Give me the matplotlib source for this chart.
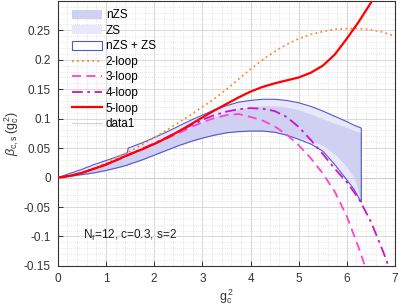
"""beta function bands: nZS / ZS uncertainty vs loop orders"""

import numpy as np
import matplotlib
matplotlib.use("Agg")
import matplotlib.pyplot as plt
from matplotlib.patches import Patch
from matplotlib.lines import Line2D

plt.rcParams['font.family'] = ['Liberation Sans', 'DejaVu Sans']
plt.rcParams['mathtext.fontset'] = 'custom'
plt.rcParams['mathtext.rm'] = 'Liberation Sans'
plt.rcParams['mathtext.it'] = 'Liberation Sans:italic'

# ---------------------------------------------------------------- band data
band_x = [0, 0.25, 0.5, 0.75, 1.0, 1.25, 1.44, 1.46, 1.75, 2.0, 2.25, 2.5, 2.75, 3.0,
          3.25, 3.5, 3.75, 4.0, 4.25, 4.5, 4.75, 5.0, 5.25, 5.5, 5.75, 6.0, 6.15, 6.3]
band_upper = [0, 0.007, 0.014, 0.022, 0.029, 0.036, 0.042, 0.050, 0.059, 0.068, 0.077,
              0.087, 0.097, 0.106, 0.115, 0.122, 0.128, 0.131, 0.133, 0.133, 0.131,
              0.127, 0.121, 0.113, 0.104, 0.095, 0.089, 0.084]
band_lower = [0, 0.002, 0.005, 0.008, 0.012, 0.017, 0.021, 0.022, 0.030, 0.038, 0.046,
              0.054, 0.061, 0.067, 0.072, 0.076, 0.078, 0.079, 0.079, 0.077, 0.072,
              0.065, 0.057, 0.045, 0.022, -0.004, -0.020, -0.042]
nzs_upper = [0, 0.004, 0.009, 0.015, 0.021, 0.029, 0.035, 0.038, 0.047, 0.056, 0.066,
             0.075, 0.085, 0.095, 0.103, 0.110, 0.116, 0.120, 0.122, 0.122, 0.120,
             0.115, 0.108, 0.100, 0.092, 0.085, 0.080, 0.076]
nzs_lower = [0, 0.002, 0.005, 0.008, 0.012, 0.017, 0.021, 0.022, 0.030, 0.038, 0.046,
             0.054, 0.061, 0.067, 0.072, 0.076, 0.078, 0.079, 0.079, 0.077, 0.072,
             0.067, 0.063, 0.055, 0.040, 0.018, 0.000, -0.040]

# ---------------------------------------------------------------- loop curves
loop_x = [0, 0.25, 0.5, 0.75, 1.0, 1.25, 1.5, 1.75, 2.0, 2.25, 2.5, 2.75, 3.0, 3.25,
          3.5, 3.75, 4.0, 4.25, 4.5, 4.75, 5.0, 5.25, 5.5, 5.75, 6.0, 6.25, 6.5, 6.75, 7.0]
loop2 = [0, 0.003, 0.008, 0.016, 0.025, 0.035, 0.045, 0.056, 0.068, 0.080, 0.093, 0.106,
         0.120, 0.134, 0.150, 0.167, 0.184, 0.200, 0.214, 0.226, 0.236, 0.243, 0.248,
         0.252, 0.253, 0.253, 0.251, 0.247, 0.240]
loop3 = [0, 0.003, 0.008, 0.015, 0.022, 0.030, 0.039, 0.048, 0.057, 0.066, 0.075, 0.085,
         0.094, 0.101, 0.106, 0.108, 0.103, 0.097, 0.087, 0.073, 0.055, 0.033, 0.007,
         -0.024, -0.066, -0.120, -0.180, -0.250, -0.330]
loop4 = [0, 0.003, 0.008, 0.015, 0.022, 0.031, 0.040, 0.049, 0.058, 0.068, 0.078, 0.088,
         0.098, 0.106, 0.112, 0.116, 0.118, 0.117, 0.113, 0.103, 0.086, 0.064, 0.040,
         0.015, -0.008, -0.036, -0.075, -0.125, -0.180]
loop5 = [0, 0.003, 0.008, 0.015, 0.022, 0.031, 0.040, 0.048, 0.057, 0.067, 0.078, 0.090,
         0.102, 0.114, 0.125, 0.136, 0.146, 0.154, 0.160, 0.165, 0.170, 0.178, 0.190,
         0.209, 0.236, 0.265, 0.297, 0.332, 0.370]

x_ticks = [0, 1, 2, 3, 4, 5, 6, 7]
y_ticks = [-0.15, -0.1, -0.05, 0, 0.05, 0.1, 0.15, 0.2, 0.25]
y_tick_labels = ['-0.15', '-0.1', '-0.05', '0', '0.05', '0.1', '0.15', '0.2', '0.25']

# colours
C_ZS = '#e8e8fa'
C_NZS = '#d0d0f2'
C_EDGE = '#5555cc'
C_AX = '#333333'

fig = plt.figure(figsize=(3.99, 3.06), dpi=100)
ax = fig.add_axes([0.145, 0.131, 0.845, 0.866])

# bands
ax.fill_between(band_x, band_lower, band_upper, color=C_ZS, lw=0, zorder=1)
ax.fill_between(band_x, nzs_lower, nzs_upper, color=C_NZS, lw=0, zorder=1.1)
outline_x = list(band_x) + [band_x[-1]] + list(band_x[::-1])
outline_y = list(band_upper) + [band_lower[-1]] + list(band_lower[::-1])
ax.plot(outline_x, outline_y, color=C_EDGE, lw=0.8, zorder=2)

# zero line (data1)
ax.axhline(0, color='#c8c8c8', lw=0.6, zorder=1.5)

# loop curves
ax.plot(loop_x, loop2, color='#ff8833', lw=1.3, ls=(0, (1, 1.8)), zorder=3)
ax.plot(loop_x, loop3, color='#ff44cc', lw=1.3, ls=(0, (5, 3)), zorder=3)
ax.plot(loop_x, loop4, color='#cc11cc', lw=1.3, ls=(0, (6, 2.5, 1.5, 2.5)), zorder=3)
ax.plot(loop_x, loop5, color='#ff0000', lw=1.6, zorder=4)

ax.set_xlim(0, 7)
ax.set_ylim(-0.15, 0.298)
ax.set_xticks(x_ticks)
ax.set_xticklabels([str(t) for t in x_ticks])
ax.set_yticks(y_ticks)
ax.set_yticklabels(y_tick_labels)
ax.set_xticks(np.arange(0, 7.01, 0.2), minor=True)
ax.set_yticks(np.arange(-0.15, 0.301, 0.01), minor=True)
ax.grid(which='major', color='#d9d9d9', lw=0.7, zorder=0)
ax.grid(which='minor', color='#d0d0d0', lw=0.5, ls=(0, (1, 2)), zorder=0)
ax.set_axisbelow(True)
ax.tick_params(which='both', direction='in', colors=C_AX, labelsize=8.5, pad=5)
ax.tick_params(which='major', length=3.5, width=0.7)
ax.tick_params(which='minor', length=0)
for s in ax.spines.values():
    s.set_color(C_AX)
    s.set_linewidth(0.8)

ax.set_xlabel(r'$\mathrm{g}_\mathrm{c}^{\,2}$', fontsize=9, color=C_AX, labelpad=2)
ax.set_ylabel(r'$\beta_{\mathrm{c,s}}\,(\mathrm{g}_\mathrm{c}^{\,2})$', fontsize=9,
              color=C_AX, labelpad=2)

ax.text(0.52, -0.099, r'N$_\mathrm{f}$=12, c=0.3, s=2', fontsize=8.5, color='#222222',
        va='center', ha='left')

handles = [
    Patch(facecolor=C_NZS, edgecolor='none'),
    Patch(facecolor=C_ZS, edgecolor='none'),
    Patch(facecolor='white', edgecolor=C_EDGE, lw=0.8),
    Line2D([], [], color='#ff8833', lw=1.3, ls=(0, (1, 1.8))),
    Line2D([], [], color='#ff44cc', lw=1.3, ls=(0, (5, 3))),
    Line2D([], [], color='#cc11cc', lw=1.3, ls=(0, (6, 2.5, 1.5, 2.5))),
    Line2D([], [], color='#ff0000', lw=1.6),
    Line2D([], [], color='#c8c8c8', lw=0.6),
]
labels = ['nZS', 'ZS', 'nZS + ZS', '2-loop', '3-loop', '4-loop', '5-loop', 'data1']
ax.legend(handles, labels, loc='upper left', bbox_to_anchor=(0.02, 0.995), frameon=False,
          fontsize=8.5, handlelength=2.6, handleheight=0.85, labelspacing=0.3,
          handletextpad=0.3, borderaxespad=0.2)

fig.savefig('out.png', dpi=100)
